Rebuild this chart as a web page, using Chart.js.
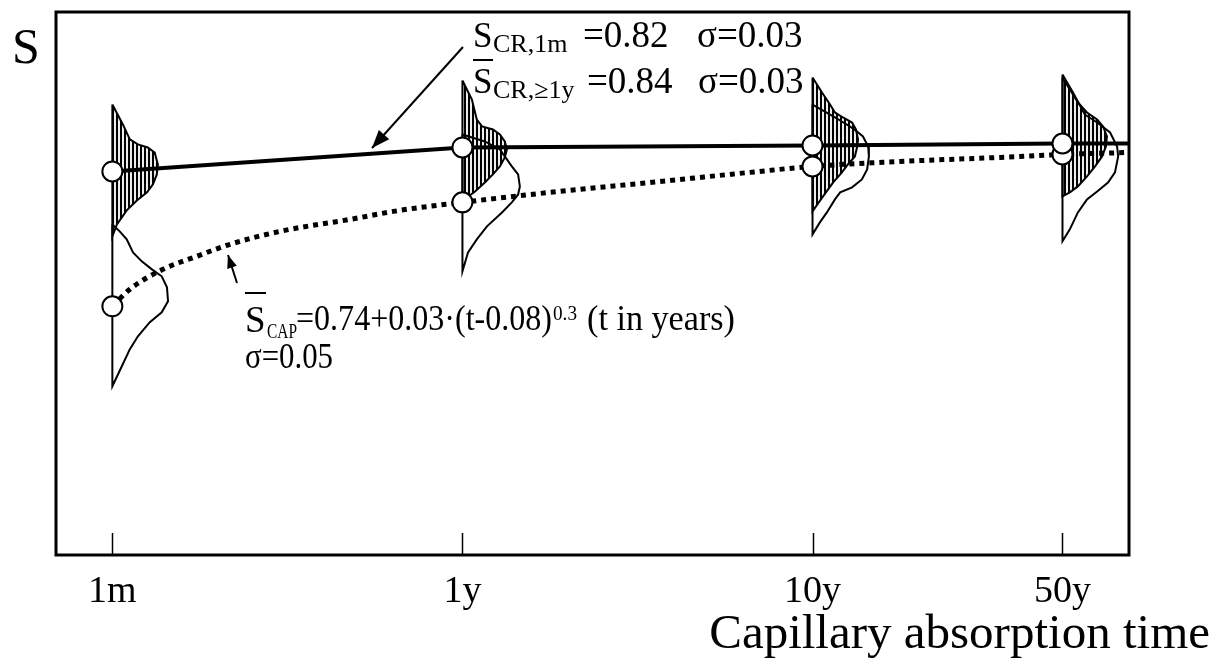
<!DOCTYPE html>
<html><head><meta charset="utf-8">
<script src="https://cdn.jsdelivr.net/npm/chart.js@4/dist/chart.umd.min.js"></script>
<style>html,body{margin:0;padding:0;background:#fff}#wrap{width:1213px;height:661px}</style>
</head><body><div id="wrap"><canvas id="c" width="1213" height="661"></canvas></div>
<script>
// ---- data ----
const tickPositions = [0, 1, 2, 2.714];
const tickLabels = ['1m', '1y', '10y', '50y'];
const xMin = -0.161, xMax = 2.904, yMin = 0.5, yMax = 0.953;

// mean lines (x position, S)
const crLineX = [0, 1, 2, 2.714, 2.904];
const crLineS = [0.82, 0.84, 0.8417, 0.8433, 0.8433];
const capLineX = [0, 0.05, 0.144, 0.241, 0.336, 0.479, 0.679, 0.821, 1.0, 1.25, 1.536, 1.821, 2.0, 2.25, 2.536, 2.714, 2.904];
const capLineS = [0.7075, 0.7217, 0.7383, 0.7492, 0.7592, 0.77, 0.78, 0.7875, 0.7942, 0.8025, 0.8108, 0.8192, 0.8242, 0.8283, 0.8317, 0.8342, 0.8358];
// mean markers
const crMeanS = [0.82, 0.84, 0.8417, 0.8433];
const capMeanS = [0.7075, 0.7942, 0.8242, 0.8342];

// distributions: [width offset, S]
const crDist1m = [[0,0.8758],[0.03,0.8592],[0.05,0.8467],[0.073,0.8425],[0.101,0.84],[0.121,0.8358],[0.13,0.8258],[0.127,0.8175],[0.116,0.8092],[0.099,0.8025],[0.07,0.7958],[0.041,0.7875],[0.013,0.7758],[0,0.7658]];
const crDist1y = [[0,0.8958],[0.027,0.88],[0.041,0.8633],[0.056,0.8575],[0.087,0.855],[0.107,0.8508],[0.121,0.845],[0.127,0.8383],[0.121,0.8317],[0.107,0.8242],[0.087,0.8175],[0.064,0.8108],[0.036,0.8033],[0.013,0.7983],[0,0.7967]];
const crDist10y = [[0,0.8983],[0.027,0.8858],[0.05,0.8758],[0.064,0.8692],[0.087,0.865],[0.113,0.8608],[0.124,0.855],[0.13,0.8467],[0.127,0.84],[0.121,0.8325],[0.101,0.8258],[0.084,0.8192],[0.059,0.8108],[0.03,0.7992],[0,0.7867]];
const crDist50y = [[0,0.8983],[0.021,0.8883],[0.044,0.8775],[0.07,0.8692],[0.099,0.8633],[0.116,0.8575],[0.127,0.8492],[0.124,0.8408],[0.113,0.8325],[0.093,0.8242],[0.07,0.8158],[0.044,0.8075],[0.021,0.8025],[0,0.7992]];
const capDist1m = [[0,0.7758],[0.021,0.77],[0.041,0.7633],[0.059,0.7525],[0.084,0.745],[0.113,0.7383],[0.141,0.7325],[0.156,0.7233],[0.159,0.7117],[0.141,0.7025],[0.107,0.6942],[0.073,0.6825],[0.05,0.6717],[0.027,0.6575],[0,0.6408]];
const capDist1y = [[0,0.8508],[0.064,0.845],[0.107,0.8383],[0.127,0.83],[0.141,0.8242],[0.159,0.8175],[0.164,0.8075],[0.159,0.8008],[0.141,0.7942],[0.113,0.7858],[0.07,0.7742],[0.041,0.7633],[0.016,0.7525],[0,0.7367]];
const capDist10y = [[0,0.8758],[0.064,0.865],[0.107,0.8575],[0.127,0.8533],[0.144,0.8492],[0.159,0.8408],[0.161,0.8325],[0.156,0.8217],[0.141,0.8133],[0.113,0.8067],[0.079,0.8025],[0.064,0.7967],[0.041,0.7858],[0.021,0.7775],[0,0.7675]];
const capDist50y = [[0,0.9008],[0.03,0.8858],[0.064,0.8675],[0.099,0.8608],[0.136,0.8525],[0.156,0.8408],[0.159,0.8325],[0.15,0.8192],[0.13,0.8108],[0.099,0.8033],[0.07,0.7967],[0.044,0.7858],[0.021,0.7717],[0,0.7617]];

const crDists = [crDist1m, crDist1y, crDist10y, crDist50y];
const capDists = [capDist1m, capDist1y, capDist10y, capDist50y];

// ---- hatch pattern ----
const pc = document.createElement('canvas'); pc.width = 4; pc.height = 4;
const pctx = pc.getContext('2d');
pctx.fillStyle = '#eeeeee'; pctx.fillRect(0,0,4,4);
pctx.fillStyle = '#000'; pctx.fillRect(0,0,2,4);
const hatch = document.getElementById('c').getContext('2d').createPattern(pc, 'repeat');

function distData(d, pos) {
  const pts = d.map(([w, s]) => ({x: pos + w, y: s}));
  pts.push({x: pts[0].x, y: pts[0].y});
  return pts;
}

const datasets = [];
datasets.push({label:'crMean', data: tickPositions.map((p,i)=>({x:p,y:crMeanS[i]})), showLine:false,
  pointRadius:10, pointBackgroundColor:'#fff', pointBorderColor:'#000', pointBorderWidth:2, order:0});
datasets.push({label:'capMean', data: tickPositions.map((p,i)=>({x:p,y:capMeanS[i]})), showLine:false,
  pointRadius:10, pointBackgroundColor:'#fff', pointBorderColor:'#000', pointBorderWidth:2, order:1});
datasets.push({label:'crLine', data: crLineX.map((x,i)=>({x, y:crLineS[i]})), showLine:true, borderColor:'#000',
  borderWidth:4, pointRadius:0, fill:false, order:2});
datasets.push({label:'capLine', data: capLineX.map((x,i)=>({x, y:capLineS[i]})), showLine:true, borderColor:'#000',
  borderWidth:5, borderDash:[5,5], borderCapStyle:'butt', pointRadius:0, tension:0.3, cubicInterpolationMode:'monotone', fill:false, order:3});
capDists.forEach((d,i)=>datasets.push({label:'capDist'+i, data: distData(d, tickPositions[i]), showLine:true,
  borderColor:'#000', borderWidth:2, pointRadius:0, fill:false, order:4}));
crDists.forEach((d,i)=>datasets.push({label:'crDist'+i, data: distData(d, tickPositions[i]), showLine:true,
  borderColor:'#000', borderWidth:2, pointRadius:0, fill:'shape', backgroundColor: hatch, order:5}));

function txt(ctx, s, x, y, size, maxW) {
  ctx.font = size + 'px "Liberation Serif"';
  if (maxW) ctx.fillText(s, x, y, maxW); else ctx.fillText(s, x, y);
}
function arrow(ctx, x1, y1, x2, y2, head, hw) {
  ctx.beginPath(); ctx.moveTo(x1,y1); ctx.lineTo(x2,y2); ctx.stroke();
  const a = Math.atan2(y2-y1, x2-x1);
  ctx.beginPath();
  ctx.moveTo(x2,y2);
  ctx.lineTo(x2 - head*Math.cos(a) + hw*Math.sin(a), y2 - head*Math.sin(a) - hw*Math.cos(a));
  ctx.lineTo(x2 - head*Math.cos(a) - hw*Math.sin(a), y2 - head*Math.sin(a) + hw*Math.cos(a));
  ctx.closePath(); ctx.fill();
}

const deco = {
  id:'deco',
  afterDraw(chart) {
    const {ctx, chartArea:a, scales:{x}} = chart;
    ctx.save();
    ctx.strokeStyle = '#000'; ctx.fillStyle = '#000';
    // inward ticks
    ctx.lineWidth = 1.5;
    tickPositions.forEach(p => { const px = Math.round(x.getPixelForValue(p)) + 0.5;
      ctx.beginPath(); ctx.moveTo(px, a.bottom); ctx.lineTo(px, a.bottom - 22); ctx.stroke(); });
    // frame
    ctx.lineWidth = 3;
    ctx.strokeRect(a.left, a.top, a.right - a.left, a.bottom - a.top);
    // axis texts
    ctx.textBaseline = 'alphabetic';
    ctx.textAlign = 'left';
    txt(ctx, 'S', 12, 63, 50);
    ctx.textAlign = 'right';
    txt(ctx, 'Capillary absorption time', 1210, 648, 49);
    ctx.textAlign = 'left';
    // annotation CR
    txt(ctx, 'S', 473, 47, 35);
    txt(ctx, 'CR,1m', 493, 52, 26, 76);
    txt(ctx, '=0.82', 583, 47, 37);
    txt(ctx, 'σ=0.03', 697, 47, 37, 106);
    ctx.fillRect(473, 59, 20, 2);
    txt(ctx, 'S', 473, 93, 35);
    txt(ctx, 'CR,≥1y', 493, 98, 26, 90);
    txt(ctx, '=0.84', 587, 93, 37);
    txt(ctx, 'σ=0.03', 698, 93, 37, 108);
    // annotation CAP
    ctx.fillRect(245, 292, 21, 2);
    txt(ctx, 'S', 245, 332, 37);
    txt(ctx, 'CAP', 267, 338, 21, 30);
    txt(ctx, '=0.74+0.03·(t-0.08)', 296, 330, 36, 256);
    txt(ctx, '0.3', 553, 320, 20, 24);
    txt(ctx, '(t in years)', 587, 330, 36, 148);
    txt(ctx, 'σ=0.05', 245, 368, 36, 88);
    // arrows
    ctx.lineWidth = 2;
    arrow(ctx, 463, 47, 372, 148, 18, 7);
    arrow(ctx, 237, 283, 228, 255, 13, 5);
    ctx.restore();
  }
};

new Chart(document.getElementById('c'), {
  type:'scatter',
  data:{datasets},
  options:{
    responsive:false, animation:false, devicePixelRatio:1,
    layout:{padding:{left:56, right:84, top:12, bottom:0}},
    plugins:{legend:{display:false}, tooltip:{enabled:false}},
    scales:{
      x:{type:'linear', min:xMin, max:xMax,
        grid:{display:false, drawTicks:false}, border:{display:false},
        afterBuildTicks:(s)=>{ s.ticks = tickPositions.map(v=>({value:v})); },
        afterFit:(s)=>{ s.height = 106; },
        ticks:{autoSkip:false, maxRotation:0, padding:14, color:'#000',
          font:{family:'"Liberation Serif"', size:38},
          callback:(v,i)=>tickLabels[i]}},
      y:{display:false, min:yMin, max:yMax}
    }
  },
  plugins:[deco]
});
</script></body></html>
